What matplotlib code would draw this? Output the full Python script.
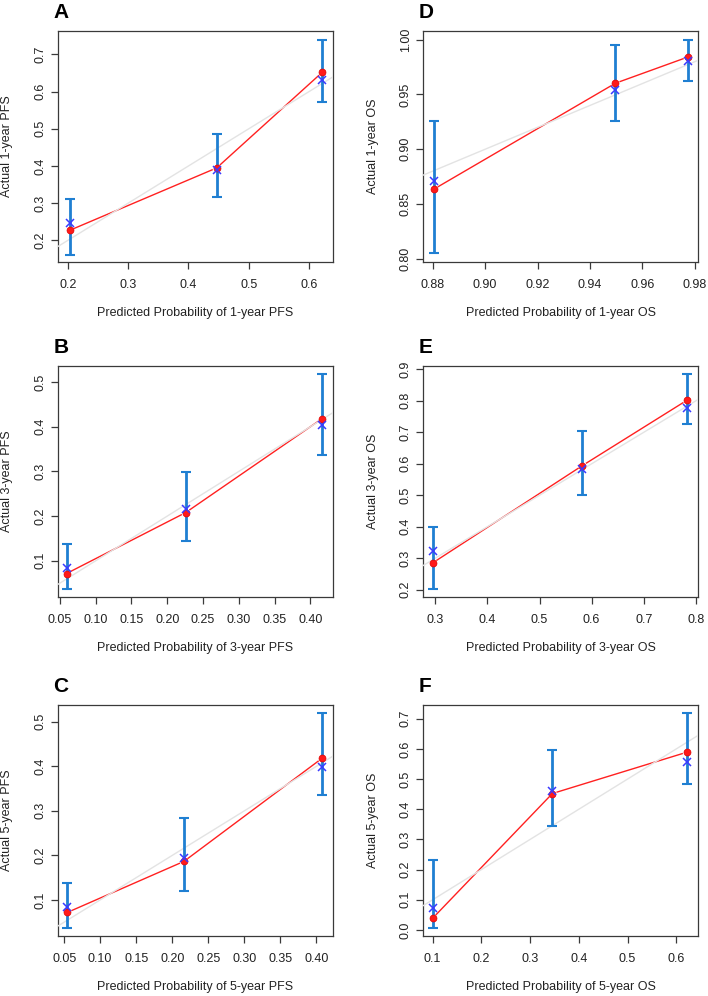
import numpy as np
import matplotlib
matplotlib.use("Agg")
from matplotlib import pyplot as plt

plt.rcParams['font.family'] = ['Liberation Sans', 'DejaVu Sans']

# panel letters and axis texts
letters = ["A", "B", "C", "D", "E", "F"]
y_titles = ["Actual 1-year PFS", "Actual 3-year PFS", "Actual 5-year PFS",
            "Actual 1-year OS", "Actual 3-year OS", "Actual 5-year OS"]
x_titles = ["Predicted Probability of 1-year PFS", "Predicted Probability of 3-year PFS",
            "Predicted Probability of 5-year PFS", "Predicted Probability of 1-year OS",
            "Predicted Probability of 3-year OS", "Predicted Probability of 5-year OS"]

# predicted probability, observed (red), bias corrected (blue x), CI low/high
pred_A = [0.203, 0.447, 0.622]
obs_A = [0.227, 0.395, 0.652]
corr_A = [0.247, 0.389, 0.631]
lo_A = [0.162, 0.318, 0.572]
hi_A = [0.312, 0.486, 0.740]

pred_B = [0.0593, 0.2259, 0.4163]
obs_B = [0.0715, 0.208, 0.418]
corr_B = [0.085, 0.216, 0.403]
lo_B = [0.0375, 0.145, 0.336]
hi_B = [0.138, 0.298, 0.519]

pred_C = [0.0546, 0.2162, 0.4078]
obs_C = [0.072, 0.1865, 0.418]
corr_C = [0.085, 0.194, 0.398]
lo_C = [0.0377, 0.121, 0.336]
hi_C = [0.138, 0.283, 0.520]

pred_D = [0.8805, 0.9497, 0.9773]
obs_D = [0.8636, 0.9603, 0.9842]
corr_D = [0.8706, 0.954, 0.981]
lo_D = [0.805, 0.926, 0.962]
hi_D = [0.926, 0.995, 1.0]

pred_E = [0.295, 0.582, 0.783]
obs_E = [0.285, 0.594, 0.802]
corr_E = [0.322, 0.582, 0.776]
lo_E = [0.203, 0.502, 0.725]
hi_E = [0.398, 0.705, 0.885]

pred_F = [0.100, 0.3456, 0.6218]
obs_F = [0.0388, 0.452, 0.589]
corr_F = [0.074, 0.460, 0.556]
lo_F = [0.0078, 0.345, 0.482]
hi_F = [0.2326, 0.596, 0.720]

# axis ranges and ticks
xlims = [(0.183, 0.639), (0.0467, 0.431), (0.0408, 0.4222),
         (0.8763, 0.9812), (0.2764, 0.804), (0.0802, 0.6444)]
ylims = [(0.142, 0.763), (0.019, 0.536), (0.019, 0.5375),
         (0.797, 1.008), (0.1767, 0.9106), (-0.02, 0.7453)]
xticks_pfs = ["0.05", "0.10", "0.15", "0.20", "0.25", "0.30", "0.35", "0.40"]
xtick_labels = [["0.2", "0.3", "0.4", "0.5", "0.6"], xticks_pfs, xticks_pfs,
                ["0.88", "0.90", "0.92", "0.94", "0.96", "0.98"],
                ["0.3", "0.4", "0.5", "0.6", "0.7", "0.8"],
                ["0.1", "0.2", "0.3", "0.4", "0.5", "0.6"]]
ytick_labels = [["0.2", "0.3", "0.4", "0.5", "0.6", "0.7"],
                ["0.1", "0.2", "0.3", "0.4", "0.5"],
                ["0.1", "0.2", "0.3", "0.4", "0.5"],
                ["0.80", "0.85", "0.90", "0.95", "1.00"],
                ["0.2", "0.3", "0.4", "0.5", "0.6", "0.7", "0.8", "0.9"],
                ["0.0", "0.1", "0.2", "0.3", "0.4", "0.5", "0.6", "0.7"]]

preds = [pred_A, pred_B, pred_C, pred_D, pred_E, pred_F]
obss = [obs_A, obs_B, obs_C, obs_D, obs_E, obs_F]
corrs = [corr_A, corr_B, corr_C, corr_D, corr_E, corr_F]
los = [lo_A, lo_B, lo_C, lo_D, lo_E, lo_F]
his = [hi_A, hi_B, hi_C, hi_D, hi_E, hi_F]

fig = plt.figure(figsize=(7.08, 9.96), dpi=100)
W, H = 708, 996
lefts = [57.5, 423]
tops = [31, 366, 705]
bw, bh = 275, 231


def gap_line(ax, x, y, gap=5, **kw):
    # R type="b": segments stop short of the points
    pts = ax.transData.transform(np.column_stack([x, y]))
    inv = ax.transData.inverted()
    for p, q in zip(pts[:-1], pts[1:]):
        d = q - p
        u = d / np.hypot(*d)
        seg = inv.transform(np.array([p + u * gap, q - u * gap]))
        ax.plot(seg[:, 0], seg[:, 1], **kw)


edge = "#3a3a3a"
for i in range(6):
    col, row = i // 3, i % 3
    ax = fig.add_axes([lefts[col] / W, 1 - (tops[row] + bh) / H, bw / W, bh / H])
    ax.set_xlim(*xlims[i])
    ax.set_ylim(*ylims[i])

    x = np.array(preds[i])
    o = np.array(obss[i])
    gap_line(ax, x, o, gap=5, color="#ff2020", lw=1, zorder=2)
    ax.axline((0, 0), (1, 1), color="#e3e3e3", lw=1, zorder=3)
    ax.errorbar(x, o, yerr=[o - np.array(los[i]), np.array(his[i]) - o], fmt="none",
                ecolor="#1f7fd2", elinewidth=2, capsize=3.5, capthick=1.5, zorder=4)
    ax.plot(x, o, "o", color="#ff1a1a", ms=5, mec="#e00000", mew=0.5, zorder=5)
    ax.plot(x, corrs[i], "x", color="#3a3aff", ms=6, mew=1.1, zorder=6)

    xt = [float(t) for t in xtick_labels[i]]
    yt = [float(t) for t in ytick_labels[i]]
    ax.set_xticks(xt)
    ax.set_xticklabels(xtick_labels[i])
    ax.set_yticks(yt)
    ax.set_yticklabels(ytick_labels[i], rotation=90, va="center")
    ax.tick_params(axis="both", length=5, width=0.9, color=edge, labelsize=9, labelcolor="#222222")
    ax.tick_params(axis="x", pad=7)
    ax.tick_params(axis="y", pad=3)
    for s in ax.spines.values():
        s.set_color(edge)
        s.set_linewidth(0.9)

    ax.set_xlabel(x_titles[i], fontsize=9, color="#222222", va="center")
    ax.xaxis.set_label_coords(0.5, -51 / bh)
    ax.set_ylabel(y_titles[i], fontsize=9, color="#222222", va="center")
    ax.yaxis.set_label_coords(-50 / bw, 0.5)
    ax.text(-4 / bw, 1 + 19 / bh, letters[i], transform=ax.transAxes, ha="left", va="center",
            fontsize=15, fontweight="bold", color="black")

fig.savefig("out.png", dpi=100, facecolor="white")
